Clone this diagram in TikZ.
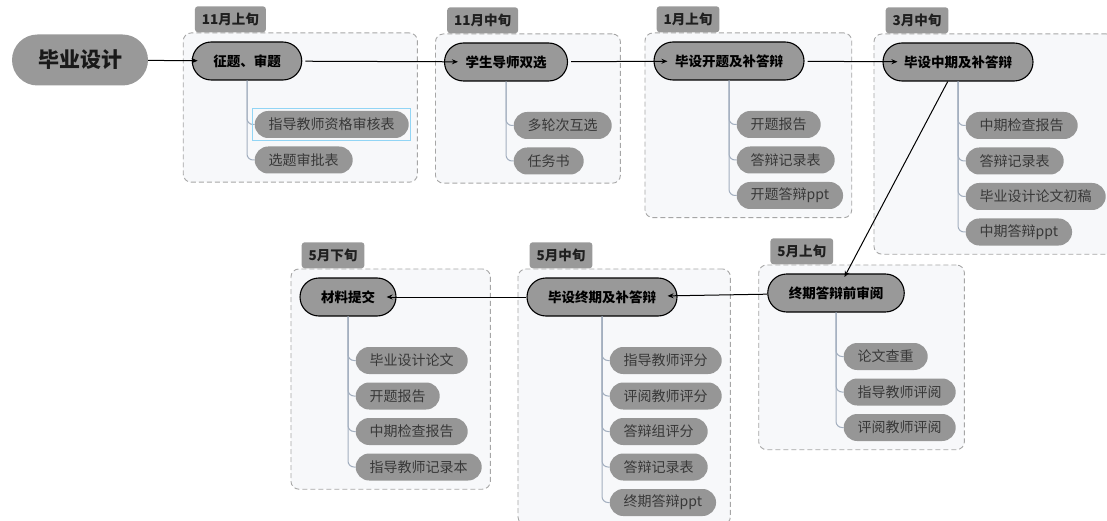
\documentclass[tikz,border=0pt]{standalone}
\usepackage{fontspec}
\setmainfont{Noto Sans CJK SC}
\usetikzlibrary{
	arrows.meta,		% 箭头样式
	backgrounds,		% 背景层
	fit,				% 分组虚线框
	positioning,		% 节点的相对摆放
}
\definecolor{nodegray}{HTML}{999999}
\definecolor{leafgray}{HTML}{969696}
\definecolor{boxfill}{HTML}{F7F8FA}
\definecolor{boxline}{HTML}{A6A6A6}
\definecolor{trunkline}{HTML}{A3AFBF}
\definecolor{selblue}{HTML}{92D5F5}

\tikzset{
	title/.style={fill=nodegray, rounded corners=25.5pt, minimum width=136pt, minimum height=51pt, text=black!90, font=\fontsize{21}{24}\selectfont\bfseries},
	topic/.style={draw=black, line width=1.1pt, fill=nodegray, rounded corners=19pt, minimum height=38pt, inner xsep=21pt, font=\fontsize{13.5}{16}\selectfont\bfseries},
	leaf/.style={fill=leafgray, rounded corners=13.5pt, minimum height=27pt, inner xsep=14pt, text=black!78, font=\fontsize{14}{16}\selectfont, anchor=west},
	grouptab/.style={fill=nodegray, rounded corners=3pt, minimum height=26pt, inner xsep=7pt, text=black!88, font=\fontsize{13.5}{15}\selectfont\bfseries, anchor=south west},
	groupbox/.style={draw=boxline, dash pattern=on 5pt off 3pt, fill=boxfill, rounded corners=8pt, inner sep=8.5pt, line width=0.9pt},
	selbox/.style={draw=selblue, line width=1pt, inner sep=2pt},
	flow/.style={-{Stealth[length=6pt,width=5pt]}, line width=1pt, shorten <=3pt, shorten >=-10pt},
	branch/.style={draw=trunkline, line width=1pt, rounded corners=6pt},
}

\begin{document}
\begin{tikzpicture}[x=1pt, y=-1pt]
	\useasboundingbox (0,0) rectangle (1107,521);

	\node[title] (start) at (80,60) {毕业设计};

	% 11月上旬
	\node[topic] (g1) at (247,61) {征题、审题};
	\foreach \txt [count=\i] in {指导教师资格审核表, 选题审批表}
		\node[leaf] (g1c\i) at ([shift={(7.5,{63.5+35.5*(\i-1)})}]g1.center) {\txt};
	\foreach \i in {1,2}
		\draw[branch] (g1.south) |- (g1c\i.west);
	\node[selbox, fit=(g1c1)] (sel) {};

	% 11月中旬
	\node[topic] (g2) at (506,62) {学生导师双选};
	\foreach \txt [count=\i] in {多轮次互选, 任务书}
		\node[leaf] (g2c\i) at ([shift={(7.5,{63.5+35.5*(\i-1)})}]g2.center) {\txt};
	\foreach \i in {1,2}
		\draw[branch] (g2.south) |- (g2c\i.west);

	% 1月上旬
	\node[topic] (g3) at (729,61) {毕设开题及补答辩};
	\foreach \txt [count=\i] in {开题报告, 答辩记录表, 开题答辩ppt}
		\node[leaf] (g3c\i) at ([shift={(7.5,{63.5+35.5*(\i-1)})}]g3.center) {\txt};
	\foreach \i in {1,2,3}
		\draw[branch] (g3.south) |- (g3c\i.west);

	% 3月中旬
	\node[topic] (g4) at (958,62) {毕设中期及补答辩};
	\foreach \txt [count=\i] in {中期检查报告, 答辩记录表, 毕业设计论文初稿, 中期答辩ppt}
		\node[leaf] (g4c\i) at ([shift={(7.5,{63.5+35.5*(\i-1)})}]g4.center) {\txt};
	\foreach \i in {1,...,4}
		\draw[branch] (g4.south) |- (g4c\i.west);

	% 5月上旬
	\node[topic] (g5) at (836,293) {终期答辩前审阅};
	\foreach \txt [count=\i] in {论文查重, 指导教师评阅, 评阅教师评阅}
		\node[leaf] (g5c\i) at ([shift={(7.5,{63.5+35.5*(\i-1)})}]g5.center) {\txt};
	\foreach \i in {1,2,3}
		\draw[branch] (g5.south) |- (g5c\i.west);

	% 5月中旬
	\node[topic] (g6) at (602,297) {毕设终期及补答辩};
	\foreach \txt [count=\i] in {指导教师评分, 评阅教师评分, 答辩组评分, 答辩记录表, 终期答辩ppt}
		\node[leaf] (g6c\i) at ([shift={(7.5,{63.5+35.5*(\i-1)})}]g6.center) {\txt};
	\foreach \i in {1,...,5}
		\draw[branch] (g6.south) |- (g6c\i.west);

	% 5月下旬
	\node[topic] (g7) at (348,297) {材料提交};
	\foreach \txt [count=\i] in {毕业设计论文, 开题报告, 中期检查报告, 指导教师记录本}
		\node[leaf] (g7c\i) at ([shift={(7.5,{63.5+35.5*(\i-1)})}]g7.center) {\txt};
	\foreach \i in {1,...,4}
		\draw[branch] (g7.south) |- (g7c\i.west);

	% 主线
	\draw[flow, shorten <=0pt, shorten >=-6pt] (start) -- (g1);
	\draw[flow, shorten >=-14pt] (g1) -- (g2);
	\draw[flow, shorten >=-14pt] (g2) -- (g3);
	\draw[flow, shorten >=-15pt] (g3) -- (g4);
	\draw[flow, shorten <=0pt, shorten >=-4pt] (g4) -- (g5);
	\draw[flow, shorten <=0pt] (g5) -- (g6);
	\draw[flow, shorten <=0pt] (g6) -- (g7);

	% 分组框与时间标签
	\begin{scope}[on background layer]
		\node[groupbox, fit=(g1)(g1c1)(g1c2)] (b1) {};
		\node[groupbox, fit=(g2)(g2c1)(g2c2)] (b2) {};
		\node[groupbox, fit=(g3)(g3c1)(g3c2)(g3c3)] (b3) {};
		\node[groupbox, fit=(g4)(g4c1)(g4c2)(g4c3)(g4c4)] (b4) {};
		\node[groupbox, fit=(g5)(g5c1)(g5c2)(g5c3)] (b5) {};
		\node[groupbox, fit=(g6)(g6c1)(g6c2)(g6c3)(g6c4)(g6c5)] (b6) {};
		\node[groupbox, fit=(g7)(g7c1)(g7c2)(g7c3)(g7c4)] (b7) {};
		\node[grouptab] (t1) at ([xshift=12pt]b1.north west) {11月上旬};
		\node[grouptab] (t2) at ([xshift=12pt]b2.north west) {11月中旬};
		\node[grouptab] (t3) at ([xshift=12pt]b3.north west) {1月上旬};
		\node[grouptab] (t4) at ([xshift=12pt]b4.north west) {3月中旬};
		\node[grouptab] (t5) at ([xshift=12pt]b5.north west) {5月上旬};
		\node[grouptab] (t6) at ([xshift=12pt]b6.north west) {5月中旬};
		\node[grouptab] (t7) at ([xshift=11pt]b7.north west) {5月下旬};
	\end{scope}
\end{tikzpicture}
\end{document}
